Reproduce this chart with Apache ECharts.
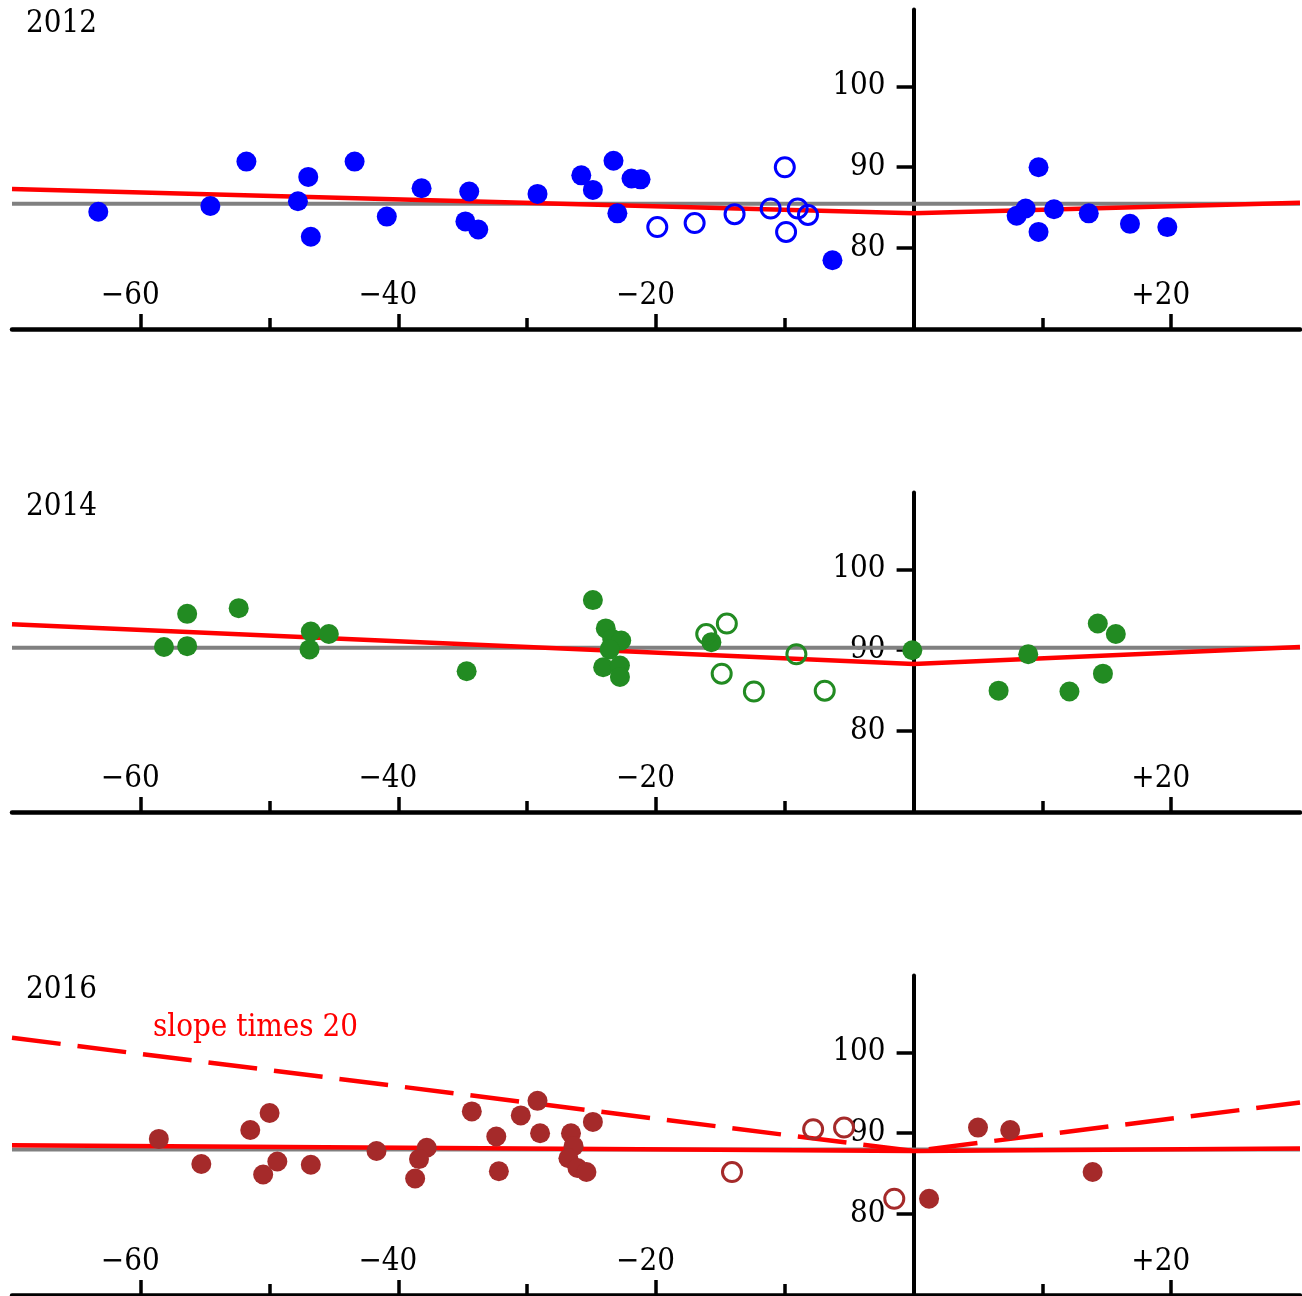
<!DOCTYPE html>
<html>
<head>
<meta charset="utf-8">
<title>Scores around the cutoff, 2012–2016</title>
<script src="https://cdn.jsdelivr.net/npm/echarts@6/dist/echarts.min.js"></script>
<style>
  html, body { margin: 0; padding: 0; background: #fff; }
  #chart { width: 1302px; height: 1296px; }
</style>
</head>
<body>
<div id="chart"></div>
<script>
// ---- data ----
const years = ['2012', '2014', '2016'];
const knots = [-70, 0, 30];             // x positions of the piecewise fit

// 2012
const filled12X = [-63.3, -54.6, -51.8, -47.0, -47.8, -46.8, -43.4, -40.9, -38.2, -34.5, -34.8, -33.8, -29.2, -25.8, -24.9, -23.3, -23.0, -21.9, -21.2, -6.3, 8.0, 8.7, 9.7, 9.7, 10.9, 13.6, 16.8, 19.7];
const filled12Y = [84.5, 85.2, 90.7, 88.8, 85.8, 81.4, 90.7, 83.9, 87.4, 87.0, 83.3, 82.3, 86.7, 89.0, 87.2, 90.8, 84.3, 88.6, 88.5, 78.5, 84.0, 84.9, 90.0, 82.0, 84.8, 84.3, 83.0, 82.6];
const hollow12X = [-19.9, -17.0, -13.9, -11.1, -10.0, -9.9, -9.0, -8.2];
const hollow12Y = [82.6, 83.1, 84.2, 84.9, 90.0, 82.0, 84.9, 84.1];
const mean12 = 85.5;
const fit12 = [87.3, 84.3, 85.6];

// 2014
const filled14X = [-58.2, -56.4, -56.4, -52.4, -46.8, -46.9, -45.4, -34.7, -24.9, -23.9, -23.4, -22.7, -23.6, -24.1, -22.8, -22.8, -15.7, -0.1, 6.6, 8.9, 12.1, 14.3, 15.7, 14.7];
const filled14Y = [90.4, 94.5, 90.5, 95.2, 92.3, 90.1, 92.0, 87.4, 96.2, 92.7, 91.4, 91.2, 90.1, 87.9, 88.1, 86.7, 91.0, 90.0, 85.0, 89.5, 84.9, 93.3, 92.0, 87.1];
const hollow14X = [-16.1, -14.5, -14.9, -12.4, -9.1, -6.9];
const hollow14Y = [92.0, 93.3, 87.1, 84.9, 89.5, 85.0];
const mean14 = 90.3;
const fit14 = [93.2, 88.3, 90.4];

// 2016
const filled16X = [-58.6, -55.3, -51.5, -50.0, -49.4, -50.5, -46.8, -41.7, -37.8, -38.4, -38.7, -34.3, -32.4, -32.2, -30.5, -29.2, -29.0, -26.6, -26.4, -26.8, -26.1, -25.4, -24.9, 1.2, 5.0, 7.5, 13.9];
const filled16Y = [89.3, 86.2, 90.4, 92.5, 86.5, 84.9, 86.1, 87.8, 88.2, 86.8, 84.4, 92.7, 89.6, 85.3, 92.2, 94.0, 90.0, 90.0, 88.4, 86.9, 85.7, 85.2, 91.4, 81.9, 90.7, 90.4, 85.2];
const hollow16X = [-14.1, -7.8, -5.4, -1.5];
const hollow16Y = [85.2, 90.5, 90.7, 81.9];
const mean16 = 88.0;
const fit16 = [88.5, 87.8, 88.1];
const slopeFactor = 20;

// axis ticks and labels
const xMin = -70, xMax = 30, yMin = 70, yMax = 109.5;
const xMajorTicks = [-60, -40, -20, 0, 20];
const xMinorTicks = [-50, -30, -10, 10];
const xLabelValues = [-60, -40, -20, 20];
const yTickValues = [80, 90, 100];

// ---- styling ----
const FONT = "'DejaVu Serif Condensed', 'DejaVu Serif', serif";
const FS = 31;
const colors = ['#0000ff', '#228b22', '#a52a2a'];
const panelTops = [9.5, 492.5, 975.5];
const panelHeight = 319.5;
const plotLeft = 12, plotRight = 2, plotWidth = 1302 - plotLeft - plotRight;
// pixel column of x = 0, where the vertical axis stands
const zeroX = plotLeft + (0 - xMin) / (xMax - xMin) * plotWidth;

const zip = (xs, ys) => xs.map((x, i) => [x, ys[i]]);
const fmtX = v => (v > 0 ? '+' : v < 0 ? '\u2212' : '') + Math.abs(v);

const panels = [
  { filled: zip(filled12X, filled12Y), hollow: zip(hollow12X, hollow12Y), mean: mean12, fit: fit12 },
  { filled: zip(filled14X, filled14Y), hollow: zip(hollow14X, hollow14Y), mean: mean14, fit: fit14 },
  { filled: zip(filled16X, filled16Y), hollow: zip(hollow16X, hollow16Y), mean: mean16, fit: fit16, steep: true }
];

const grid = [], xAxis = [], yAxis = [], series = [], graphic = [];
const hidden = { show: false };

panels.forEach((p, i) => {
  const gData = i * 2, gAxis = i * 2 + 1;
  // plotting area
  grid.push({ left: plotLeft, right: plotRight, top: panelTops[i], height: panelHeight,
              containLabel: false, outerBoundsMode: 'none' });
  // thin strip whose left edge carries the vertical axis at x = 0
  grid.push({ left: zeroX, width: 10, top: panelTops[i], height: panelHeight,
              containLabel: false, outerBoundsMode: 'none' });

  const xMainIdx = xAxis.length;
  xAxis.push({
    type: 'value', gridIndex: gData, min: xMin, max: xMax, position: 'bottom',
    splitLine: hidden,
    axisLine: { show: true, onZero: false, lineStyle: { color: '#000', width: 4.5 } },
    axisTick: { show: true, inside: true, length: 15, customValues: xMajorTicks, lineStyle: { color: '#000', width: 3.5 } },
    axisLabel: {
      show: true, inside: true, margin: 18, customValues: xLabelValues,
      formatter: fmtX, color: '#000', fontFamily: FONT, fontSize: FS, lineHeight: 30,
      padding: [0, 21, 0, 0]
    }
  });
  xAxis.push({
    type: 'value', gridIndex: gData, min: xMin, max: xMax, position: 'bottom',
    splitLine: hidden,
    axisLine: { show: false, onZero: false },
    axisTick: { show: true, inside: true, length: 11, customValues: xMinorTicks, lineStyle: { color: '#000', width: 3.5 } },
    axisLabel: hidden
  });
  xAxis.push({
    type: 'value', gridIndex: gAxis, min: 0, max: 1,
    splitLine: hidden, axisLine: hidden, axisTick: hidden, axisLabel: hidden
  });

  const yDataIdx = yAxis.length;
  yAxis.push({
    type: 'value', gridIndex: gData, min: yMin, max: yMax,
    splitLine: hidden, axisLine: hidden, axisTick: hidden, axisLabel: hidden
  });
  yAxis.push({
    type: 'value', gridIndex: gAxis, min: yMin, max: yMax, position: 'left',
    splitLine: hidden,
    axisLine: { show: true, onZero: false, lineStyle: { color: '#000', width: 4 } },
    axisTick: { show: true, length: 17, customValues: yTickValues, lineStyle: { color: '#000', width: 3.5 } },
    axisLabel: { show: true, margin: 28, customValues: yTickValues, color: '#000', fontFamily: FONT, fontSize: FS,
                 padding: [6, 0, 0, 0] }
  });

  const ax = { xAxisIndex: xMainIdx, yAxisIndex: yDataIdx };
  series.push(Object.assign({
    type: 'line', symbol: 'none', silent: true, z: 2,
    data: [[knots[0], p.mean], [knots[2], p.mean]],
    lineStyle: { color: '#808080', width: 4 }
  }, ax));
  series.push(Object.assign({
    type: 'line', symbol: 'none', silent: true, z: 3,
    data: knots.map((k, j) => [k, p.fit[j]]),
    lineStyle: { color: '#ff0000', width: 4.5 }
  }, ax));
  if (p.steep) {
    // fitted line with both slopes multiplied by slopeFactor, pivoting at the cutoff
    const c = p.fit[1];
    series.push(Object.assign({
      type: 'line', symbol: 'none', silent: true, z: 3,
      data: knots.map((k, j) => [k, c + slopeFactor * (p.fit[j] - c)]),
      lineStyle: { color: '#ff0000', width: 4.5, type: [49, 17] }
    }, ax));
  }
  series.push(Object.assign({
    type: 'scatter', z: 5, silent: true, symbol: 'circle', symbolSize: 20,
    itemStyle: { color: colors[i], opacity: 1 },
    data: p.filled
  }, ax));
  series.push(Object.assign({
    type: 'scatter', z: 5, silent: true, symbol: 'circle', symbolSize: 19,
    itemStyle: { color: 'rgba(255,255,255,0)', borderColor: colors[i], borderWidth: 3, opacity: 1 },
    data: p.hollow
  }, ax));

  graphic.push({
    type: 'text', left: 26, top: panelTops[i] - 1, z: 10,
    style: { text: years[i], fill: '#000', font: FS + 'px ' + FONT }
  });
});

graphic.push({
  type: 'text', left: 153, top: 1012, z: 10,
  style: { text: 'slope times 20', fill: '#ff0000', font: FS + 'px ' + FONT }
});

const chart = echarts.init(document.getElementById('chart'), null, { renderer: 'canvas' });
chart.setOption({
  animation: false,
  backgroundColor: '#ffffff',
  textStyle: { fontFamily: FONT },
  grid, xAxis, yAxis, series, graphic
});
</script>
</body>
</html>
